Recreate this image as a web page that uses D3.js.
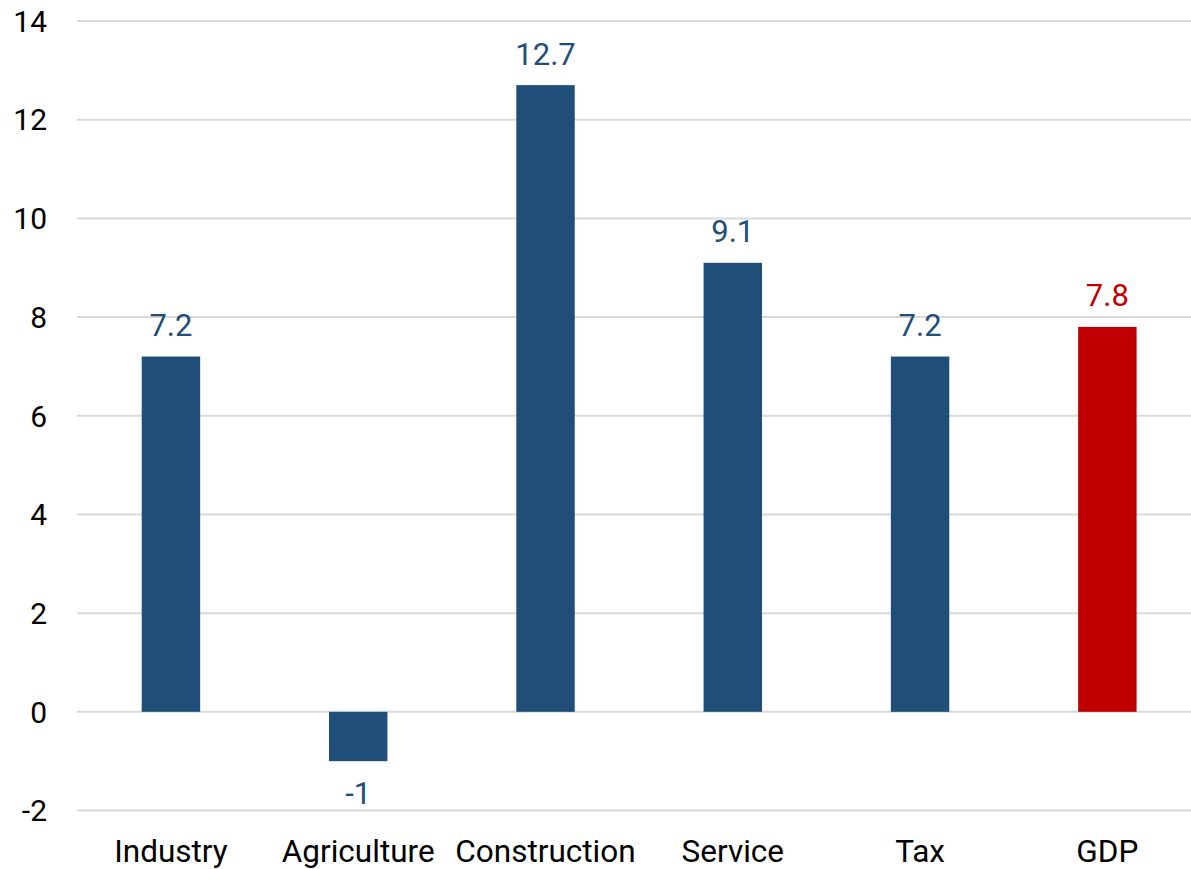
<!DOCTYPE html>
<html>
<head>
<meta charset="utf-8">
<script src="https://cdn.jsdelivr.net/npm/d3@7"></script>
<style>
  body { margin: 0; background: #fff; }
  text { font-family: Roboto, "Noto Sans", sans-serif; }
</style>
</head>
<body>
<div id="plot"></div>
<script>
const categories = ["Industry", "Agriculture", "Construction", "Service", "Tax", "GDP"];
const values = [7.2, -1, 12.7, 9.1, 7.2, 7.8];
const yTicks = [-2, 0, 2, 4, 6, 8, 10, 12, 14];

const svgWidth = 1191, svgHeight = 869;

const svg = d3.select("#plot")
    .append("svg")
    .attr("width", svgWidth)
    .attr("height", svgHeight);

const x = d3.scaleBand()
    .domain(categories)
    .range([77.3, 1201])
    .paddingInner(0.688)
    .paddingOuter(0.344);

const y = d3.scaleLinear()
    .domain([-2, 14])
    .range([810.5, 21]);

// gridlines
svg.append("g")
    .selectAll("line")
    .data(yTicks)
    .enter()
    .append("line")
    .attr("x1", 77)
    .attr("x2", svgWidth)
    .attr("y1", d => y(d))
    .attr("y2", d => y(d))
    .attr("stroke", "#d9d9d9")
    .attr("stroke-width", 2);

// y tick labels
svg.append("g")
    .selectAll("text")
    .data(yTicks)
    .enter()
    .append("text")
    .attr("x", 47)
    .attr("y", d => y(d))
    .attr("dy", "0.36em")
    .attr("text-anchor", "end")
    .attr("font-size", 30)
    .attr("fill", "#000")
    .text(d => d);

const colour = d => d === "GDP" ? "#c00000" : "#1f4e79";

// bars
svg.append("g")
    .selectAll("rect")
    .data(categories)
    .enter()
    .append("rect")
    .attr("x", d => x(d))
    .attr("width", x.bandwidth())
    .attr("y", (d, i) => y(Math.max(0, values[i])))
    .attr("height", (d, i) => Math.abs(y(values[i]) - y(0)))
    .attr("fill", colour);

// data labels
svg.append("g")
    .selectAll("text")
    .data(categories)
    .enter()
    .append("text")
    .attr("x", d => x(d) + x.bandwidth() / 2)
    .attr("y", (d, i) => values[i] >= 0 ? y(values[i]) - 20.5 : y(values[i]) + 43)
    .attr("text-anchor", "middle")
    .attr("font-size", 31)
    .attr("fill", colour)
    .text((d, i) => values[i]);

// category labels
svg.append("g")
    .selectAll("text")
    .data(categories)
    .enter()
    .append("text")
    .attr("x", d => x(d) + x.bandwidth() / 2)
    .attr("y", 861.5)
    .attr("text-anchor", "middle")
    .attr("font-size", 31.5)
    .attr("fill", "#000")
    .text(d => d);
</script>
</body>
</html>
